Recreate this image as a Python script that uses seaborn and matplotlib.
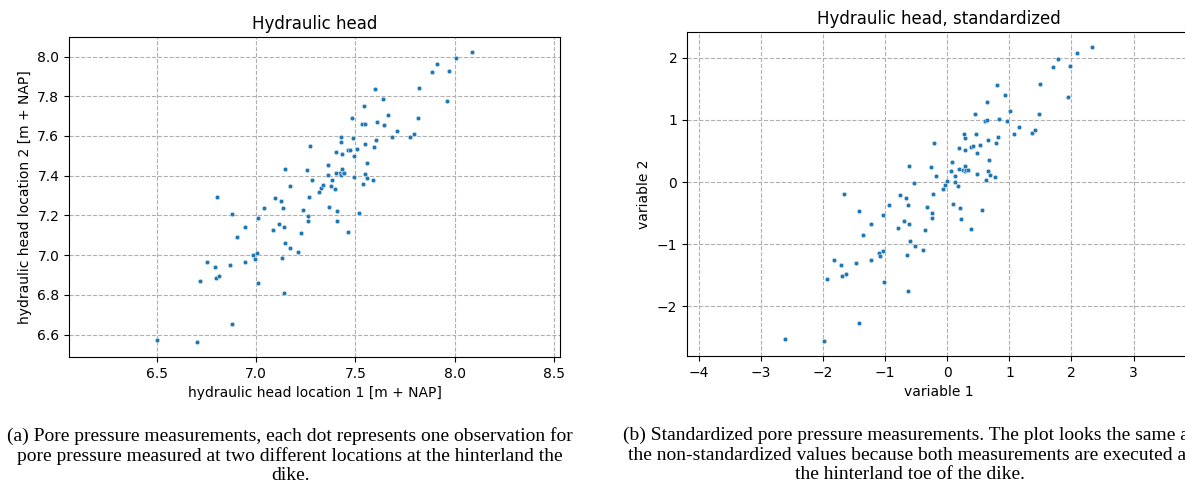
import numpy as np
import pandas as pd
import matplotlib
matplotlib.use("Agg")
import matplotlib.pyplot as plt
import seaborn as sns

# hydraulic head readings at the two locations [m + NAP]
head_loc1 = [6.500, 6.704, 6.881, 7.010, 7.138, 6.717, 6.796, 6.815, 6.754, 6.792,
             6.867, 6.946, 6.985, 6.992, 7.006, 7.131, 7.212, 7.173, 7.146, 6.906,
             6.944, 6.881, 6.804, 7.008, 7.038, 7.087, 7.096, 7.125, 7.135, 7.115,
             7.140, 7.169, 7.144, 7.225, 7.235, 7.260, 7.260, 7.267, 7.279, 7.256,
             7.269, 7.315, 7.329, 7.338, 7.367, 7.377, 7.381, 7.396, 7.406, 7.408,
             7.360, 7.362, 7.400, 7.400, 7.421, 7.429, 7.431, 7.437, 7.444, 7.431,
             7.429, 7.425, 7.463, 7.463, 7.473, 7.485, 7.487, 7.494, 7.492, 7.506,
             7.517, 7.535, 7.546, 7.544, 7.538, 7.550, 7.550, 7.556, 7.560, 7.588,
             7.592, 7.598, 7.602, 7.608, 7.637, 7.646, 7.663, 7.685, 7.710, 7.777,
             7.794, 7.815, 7.821, 7.887, 7.913, 7.973, 7.962, 8.008, 8.088]
head_loc2 = [6.572, 6.560, 6.652, 6.857, 6.810, 6.868, 6.883, 6.897, 6.966, 6.940,
             6.950, 6.966, 7.000, 6.982, 7.008, 6.987, 7.016, 7.036, 7.061, 7.091,
             7.143, 7.207, 7.291, 7.187, 7.239, 7.125, 7.289, 7.272, 7.239, 7.158,
             7.143, 7.346, 7.432, 7.111, 7.227, 7.172, 7.199, 7.291, 7.380, 7.428,
             7.547, 7.318, 7.336, 7.355, 7.241, 7.350, 7.380, 7.333, 7.222, 7.170,
             7.405, 7.452, 7.415, 7.521, 7.413, 7.405, 7.432, 7.413, 7.413, 7.509,
             7.569, 7.593, 7.117, 7.528, 7.531, 7.692, 7.591, 7.497, 7.393, 7.534,
             7.212, 7.658, 7.660, 7.750, 7.360, 7.408, 7.559, 7.464, 7.388, 7.376,
             7.544, 7.837, 7.578, 7.668, 7.787, 7.656, 7.707, 7.593, 7.626, 7.596,
             7.611, 7.692, 7.839, 7.923, 7.963, 7.928, 7.777, 7.993, 8.025]

caption_a = ("(a) Pore pressure measurements, each dot represents one observation for\n"
             "pore pressure measured at two different locations at the hinterland the\n"
             "dike.")
caption_b = ("(b) Standardized pore pressure measurements. The plot looks the same as\n"
             "the non-standardized values because both measurements are executed at\n"
             "the hinterland toe of the dike.")

df = pd.DataFrame({"h1": head_loc1, "h2": head_loc2})
# standardize each location (zero mean, unit variance)
df["z1"] = (df.h1 - df.h1.mean()) / df.h1.std(ddof=0)
df["z2"] = (df.h2 - df.h2.mean()) / df.h2.std(ddof=0)

W, H = 1185, 488
fig = plt.figure(figsize=(W / 100, H / 100), dpi=100)

def box(x0, y0, x1, y1):
    # pixel box -> figure fraction
    return [x0 / W, 1 - y1 / H, (x1 - x0) / W, (y1 - y0) / H]

ax1 = fig.add_axes(box(69, 37, 560, 357))
ax2 = fig.add_axes(box(687, 32, 1190, 356))

for ax, xc, yc in [(ax1, "h1", "h2"), (ax2, "z1", "z2")]:
    sns.scatterplot(data=df, x=xc, y=yc, ax=ax, s=11, color="#1f77b4",
                    linewidth=0.3, edgecolor="white", zorder=3)
    ax.grid(True, linestyle="--", color="#b0b0b0", linewidth=0.8)
    ax.set_axisbelow(True)
    ax.set_aspect("equal", adjustable="datalim")
    ax.tick_params(labelsize=10)

ax1.set_title("Hydraulic head", fontsize=12)
ax1.set_xlabel("hydraulic head location 1 [m + NAP]", fontsize=10)
ax1.set_ylabel("hydraulic head location 2 [m + NAP]", fontsize=10)

ax2.set_title("Hydraulic head, standardized", fontsize=12)
ax2.set_xlabel("variable 1", fontsize=10)
ax2.set_ylabel("variable 2", fontsize=10)

# the (b) caption runs past the right edge, as in the source page
fig.text(290 / W, 1 - 427 / H, caption_a, ha="center", va="top",
         family="Liberation Serif", fontsize=14, linespacing=1.17)
fig.text(910 / W, 1 - 427 / H, caption_b, ha="center", va="top",
         family="Liberation Serif", fontsize=14, linespacing=1.17)

fig.savefig("out.png", dpi=100)
